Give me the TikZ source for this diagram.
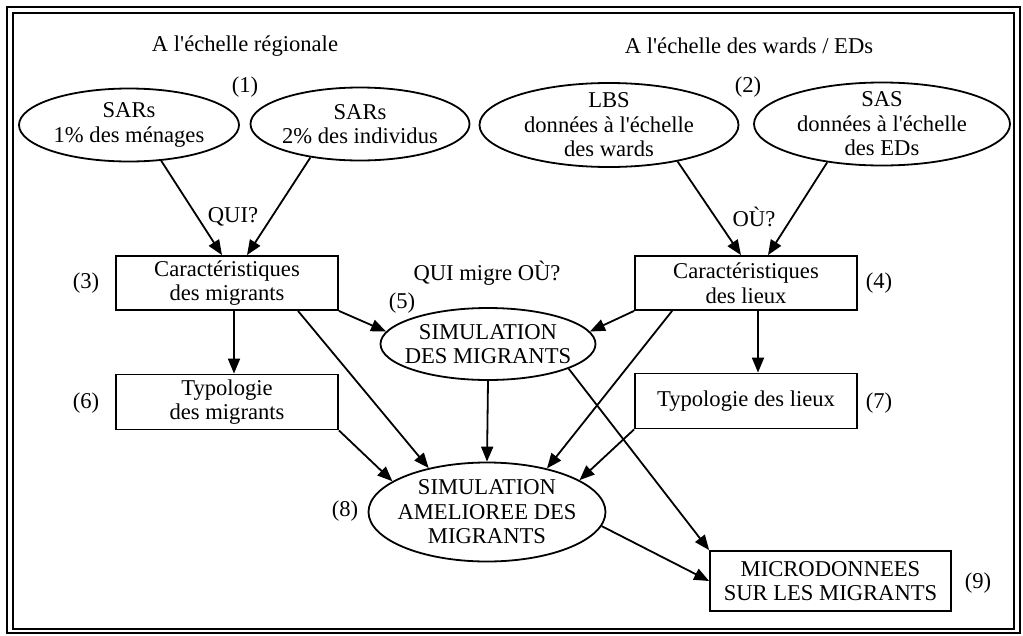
\documentclass[tikz,border=0pt]{standalone}
\usepackage{fontspec}
\setmainfont{Liberation Serif}
\usetikzlibrary{shapes.geometric,arrows.meta}
\newcommand{\aq}{\textquotesingle}
\begin{document}
\begin{tikzpicture}[x=1pt,y=-1pt,
  every node/.style={font=\fontsize{22.6}{24.5}\selectfont},
  ell/.style={draw, ellipse, line width=1.8pt, inner sep=-60pt, align=center},
  box/.style={draw, rectangle, line width=1.8pt, inner sep=0pt, align=center},
  arr/.style={line width=1.8pt, -{Triangle[length=15pt,width=12pt]}},
  frameout/.style={line width=2.5pt},
  framein/.style={line width=2pt}
]
\useasboundingbox[fill=white] (0,0) rectangle (1023,635);
\draw[frameout] (7,7) rectangle (1020,633);
\draw[framein] (13,13) rectangle (1014,629);

% headings
\node (t1) at (245,46) {A l\aq échelle régionale};
\node (t2) at (749,46) {A l\aq échelle des wards / EDs};

% ellipses
\node[ell, minimum width=220pt, minimum height=73pt] (e1) at (129,125) {SARs\\1\% des ménages};
\node[ell, minimum width=219pt, minimum height=73pt] (e2) at (360,124) {SARs\\2\% des individus};
\node[ell, minimum width=259pt, minimum height=84pt] (e3) at (609,125) {LBS\\données à l\aq échelle\\des wards};
\node[ell, minimum width=256pt, minimum height=83pt] (e4) at (882,124) {SAS\\données à l\aq échelle\\des EDs};
\node[ell, minimum width=215pt, minimum height=72pt] (e5) at (488,344) {SIMULATION\\DES MIGRANTS};
\node[ell, minimum width=237pt, minimum height=99pt] (e8) at (487,512) {SIMULATION\\AMELIOREE DES\\MIGRANTS};

% boxes
\node[box, minimum width=222pt, minimum height=54pt] (b3) at (227,283) {Caractéristiques\\des migrants};
\node[box, minimum width=222pt, minimum height=54pt] (b4) at (746,283) {Caractéristiques\\des lieux};
\node[box, minimum width=222pt, minimum height=55pt] (b6) at (227,402) {Typologie\\des migrants};
\node[box, minimum width=222pt, minimum height=55pt] (b7) at (746,401) {Typologie des lieux};
\node[box, minimum width=241pt, minimum height=60pt] (b9) at (830.5,581) {MICRODONNEES\\SUR LES MIGRANTS};

% numbers
\node (n1) at (245,87) {(1)};
\node (n2) at (748,87) {(2)};
\node (n3) at (86,283) {(3)};
\node (n4) at (879,283) {(4)};
\node (n5) at (402,303) {(5)};
\node (n6) at (86,403) {(6)};
\node (n7) at (879,403) {(7)};
\node (n8) at (345,511) {(8)};
\node (n9) at (978,583) {(9)};

% questions
\node (q1) at (233,217) {QUI?};
\node (q2) at (754,217) {OÙ?};
\node (q3) at (487,273) {QUI migre OÙ?};

% connectors
\draw[arr] (e1.-48) -- ([xshift=-5pt]b3.north);
\draw[arr] (e2.-146) -- ([xshift=20pt]b3.north);
\draw[arr] (e3.-28) -- ([xshift=-5pt]b4.north);
\draw[arr] (e4.-145) -- ([xshift=22pt]b4.north);
\draw[arr] ([xshift=7pt]b3.south) -- ([xshift=7pt]b6.north);
\draw[arr] ([xshift=71pt]b3.south) -- (e8.143);
\draw[arr] (b3.south east) -- (e5.173);
\draw[arr] (b6.south east) -- (e8.162);
\draw[arr] (e5.south) -- (e8.north);
\draw[arr] (b4.south west) -- (e5.7);
\draw[arr] ([xshift=38pt]b4.south west) -- (e8.36);
\draw[arr] ([xshift=12pt]b4.south) -- ([xshift=12pt]b7.north);
\draw[arr] (b7.south west) -- (e8.19);
\draw[arr] (e5.-17) -- (b9.north west);
\draw[arr] (e8.-7) -- (b9.west);
\end{tikzpicture}
\end{document}
